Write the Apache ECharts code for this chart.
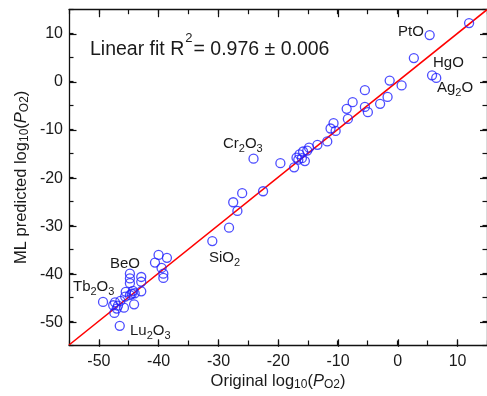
<!DOCTYPE html>
<html>
<head>
<meta charset="utf-8">
<script src="https://cdn.jsdelivr.net/npm/echarts@6/dist/echarts.min.js"></script>
<style>
  html, body { margin: 0; padding: 0; background: #fff; }
  #chart { width: 487px; height: 396px; }
</style>
</head>
<body>
<div id="chart"></div>
<script>
// Original (thermodynamic) log10(P_O2) for each oxide
const origLog = [
  12.0, 5.4, 2.75, 5.8, 6.5, -1.3, 0.7, -5.45, -1.65, -7.5,
  -2.9, -8.5, -5.45, -4.95, -8.3, -10.7, -11.2, -10.35, -11.75, -13.4,
  -14.8, -15.1, -15.8, -16.4, -16.9, -16.6, -16.0, -15.5, -17.3, -19.6,
  -24.1, -22.5, -26.0, -27.5, -26.8, -28.2, -31.0, -40.0, -38.6, -40.6,
  -39.5, -39.2, -39.2, -44.8, -44.8, -44.8, -42.9, -42.9, -42.9, -44.3,
  -44.5, -44.0, -45.5, -45.6, -44.8, -44.1, -45.8, -46.4, -47.3, -47.6,
  -46.8, -47.0, -47.4, -49.3, -46.5
];
// ML predicted log10(P_O2), same order
const predLog = [
  12.2, 9.7, 4.9, 1.3, 0.75, 0.2, -0.8, -1.8, -3.2, -4.3,
  -4.65, -5.7, -5.3, -6.4, -7.8, -8.7, -9.8, -10.3, -12.5, -13.2,
  -13.8, -14.4, -14.6, -15.2, -15.9, -16.3, -16.0, -16.6, -17.9, -17.05,
  -16.1, -22.9, -23.3, -25.2, -27.0, -30.5, -33.3, -36.2, -36.8, -37.8,
  -38.9, -40.1, -41.0, -40.1, -41.1, -42.1, -40.8, -41.8, -43.8, -43.7,
  -44.3, -44.2, -43.9, -44.9, -44.6, -46.5, -47.2, -45.8, -46.1, -46.7,
  -46.8, -47.4, -48.3, -46.0, -51.0
];
// Linear fit line end points
const fitX = [-55, 15];
const fitY = [-55, 15];
const fitR2 = '0.976';
const fitErr = '0.006';

// Axis range and tick steps
const axisMin = -55, axisMax = 15;
const majorMin = -50, majorMax = 10, majorStep = 10, minorStep = 5;

const FONT = '"Liberation Sans", Arial, Helvetica, sans-serif';
const gridL = 69, gridT = 9.7, gridW = 418.5, gridH = 337.1;
const span = axisMax - axisMin;
const pxX = gridW / span, pxY = gridH / span;
const inset = majorMin - axisMin;

const chart = echarts.init(document.getElementById('chart'), null, { renderer: 'canvas' });

const lineCol = '#111';
const tickStyle = { color: lineCol, width: 1.2 };

// Frame axes: line plus short ticks every 5 units
function minorAxis(pos, extra) {
  return Object.assign({
    type: 'value', gridIndex: 0, position: pos,
    min: axisMin, max: axisMax, interval: minorStep,
    axisLine: { show: true, onZero: false, lineStyle: { color: lineCol, width: 1.3 } },
    axisTick: { show: true, inside: true, length: 4.5, lineStyle: tickStyle },
    axisLabel: { show: false },
    splitLine: { show: false }
  }, extra || {});
}
// Labelled axes: longer ticks every 10 units, shifted onto the frame
function majorAxis(pos, offset, showLabel, extra) {
  return Object.assign({
    type: 'value', gridIndex: 1, position: pos, offset: offset,
    min: majorMin, max: majorMax, interval: majorStep,
    axisLine: { show: false, onZero: false },
    axisTick: { show: true, inside: true, length: 7.5, lineStyle: tickStyle },
    axisLabel: { show: showLabel, color: '#1a1a1a', fontSize: 16, fontFamily: FONT, margin: 7 },
    splitLine: { show: false }
  }, extra || {});
}

const nameRich = {
  m: { fontSize: 16.5, fontFamily: FONT, color: '#1a1a1a', lineHeight: 20 },
  i: { fontSize: 16.5, fontFamily: FONT, color: '#1a1a1a', lineHeight: 20, fontStyle: 'italic' },
  s: { fontSize: 12, fontFamily: FONT, color: '#1a1a1a', lineHeight: 10, verticalAlign: 'bottom' }
};

const points = origLog.map((x, k) => [x, predLog[k]]);
const fitData = fitX.map((x, k) => [x, fitY[k]]);

// Annotation text: main letters with subscripts
const annRich = {
  a: { fontSize: 15, fontFamily: FONT, fill: '#1a1a1a', lineHeight: 18, verticalAlign: 'top' },
  b: { fontSize: 11, fontFamily: FONT, fill: '#1a1a1a', lineHeight: 10, verticalAlign: 'bottom' }
};
const annotations = [
  { t: '{a|PtO}', x: 398, y: 24 },
  { t: '{a|HgO}', x: 433, y: 55 },
  { t: '{a|Ag}{b|2}{a|O}', x: 437, y: 80 },
  { t: '{a|Cr}{b|2}{a|O}{b|3}', x: 223, y: 136 },
  { t: '{a|SiO}{b|2}', x: 209, y: 250 },
  { t: '{a|BeO}', x: 110, y: 256 },
  { t: '{a|Tb}{b|2}{a|O}{b|3}', x: 73, y: 279 },
  { t: '{a|Lu}{b|2}{a|O}{b|3}', x: 130, y: 323 }
];

const graphics = annotations.map(a => ({
  type: 'text', left: a.x, top: a.y, silent: true,
  style: { text: a.t, rich: annRich }
}));

// Fit statistic: main text, superscript 2, then the value, laid out by measured widths
const fitFont = '19.5px ' + FONT;
const supFont = '13px ' + FONT;
const measure = document.createElement('canvas').getContext('2d');
function textWidth(t, f) { measure.font = f; return measure.measureText(t).width; }
const fitParts = [
  { t: 'Linear fit R', f: fitFont, dy: 0 },
  { t: '2', f: supFont, dy: -12 },
  { t: '= ' + fitR2 + ' \u00b1 ' + fitErr, f: fitFont, dy: 0 }
];
let cursor = 90;
fitParts.forEach(p => {
  graphics.push({
    type: 'text', x: cursor, y: 50 + p.dy, silent: true,
    style: { text: p.t, font: p.f, fill: '#1a1a1a', align: 'left', verticalAlign: 'middle' }
  });
  cursor += textWidth(p.t, p.f) + 1;
});

chart.setOption({
  animation: false,
  backgroundColor: '#fff',
  grid: [
    { left: gridL, top: gridT, width: gridW, height: gridH, containLabel: false },
    { left: gridL + inset * pxX, top: gridT + (axisMax - majorMax) * pxY,
      width: (majorMax - majorMin) * pxX, height: (majorMax - majorMin) * pxY, containLabel: false }
  ],
  xAxis: [
    minorAxis('bottom', {
      name: '{m|Original log}{s|10}{m|(}{i|P}{s|O2}{m|)}',
      nameLocation: 'middle', nameGap: 26,
      nameTextStyle: { rich: nameRich }
    }),
    minorAxis('top'),
    majorAxis('bottom', inset * pxY, true),
    majorAxis('top', (axisMax - majorMax) * pxY, false)
  ],
  yAxis: [
    minorAxis('left', {
      name: '{m|ML predicted log}{s|10}{m|(}{i|P}{s|O2}{m|)}',
      nameLocation: 'middle', nameGap: 38, nameRotate: 90,
      nameTextStyle: { rich: nameRich }
    }),
    minorAxis('right'),
    majorAxis('left', inset * pxX, true, { axisLabel: { show: true, color: '#1a1a1a', fontSize: 16, fontFamily: FONT, margin: 6 } }),
    majorAxis('right', (axisMax - majorMax) * pxX, false)
  ],
  series: [
    {
      type: 'line', xAxisIndex: 0, yAxisIndex: 0,
      data: fitData, symbol: 'none', silent: true, z: 2,
      lineStyle: { color: '#ff0000', width: 1.6 }
    },
    {
      type: 'scatter', xAxisIndex: 0, yAxisIndex: 0,
      data: points, symbol: 'circle', symbolSize: 9, silent: true, z: 3,
      itemStyle: { color: 'rgba(0,0,0,0)', borderColor: '#2020ff', borderWidth: 1.3 }
    }
  ],
  graphic: graphics
});
</script>
</body>
</html>
